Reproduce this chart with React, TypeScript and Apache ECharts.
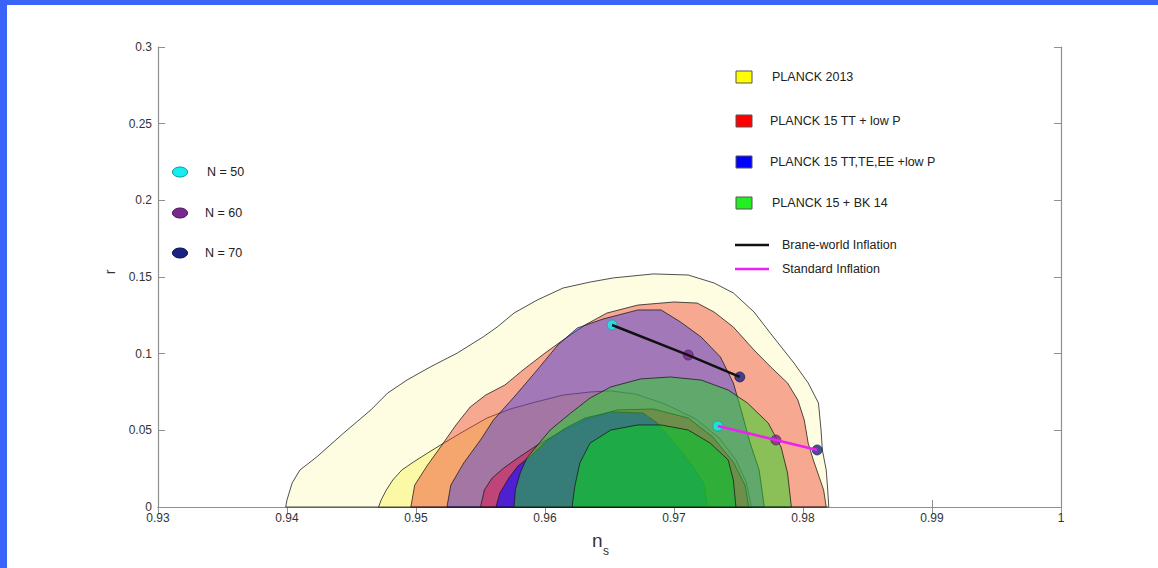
import React, { useEffect, useRef } from "react";
import * as echarts from "echarts";

// ---- data (ns, r) ----
const planck2013_95 = [
  [0.9399, 0], [0.94, 0.0046], [0.9404, 0.0157], [0.941, 0.0241], [0.9423, 0.0326], [0.9444, 0.0483],
  [0.9465, 0.0633], [0.9478, 0.0743], [0.9493, 0.0828], [0.9511, 0.0913], [0.9532, 0.1004], [0.9552, 0.1109],
  [0.9563, 0.1174], [0.9576, 0.1265], [0.9594, 0.135], [0.9614, 0.1428], [0.9635, 0.1467], [0.9653, 0.1494],
  [0.9684, 0.152], [0.9711, 0.1513], [0.9731, 0.1461], [0.9746, 0.1396], [0.9762, 0.1272], [0.9777, 0.1109],
  [0.9793, 0.0939], [0.9804, 0.0809], [0.9812, 0.0678], [0.9814, 0.0502], [0.9815, 0.0372], [0.9818, 0.0241],
  [0.9819, 0.013], [0.982, 0],
];
const planck2013_68 = [
  [0.9471, 0], [0.9473, 0.0046], [0.9477, 0.0111], [0.9482, 0.0176], [0.9489, 0.0241], [0.9498, 0.0293],
  [0.9509, 0.0352], [0.9519, 0.0404], [0.9536, 0.0489], [0.9555, 0.058], [0.9573, 0.0639], [0.9593, 0.0685],
  [0.9614, 0.073], [0.9635, 0.075], [0.9651, 0.0757], [0.967, 0.0737], [0.9693, 0.0672], [0.9717, 0.0574],
  [0.9735, 0.045], [0.9748, 0.0307], [0.9756, 0.0163], [0.976, 0],
];
const tt_95 = [
  [0.9496, 0], [0.9499, 0.0143], [0.9509, 0.0274], [0.9519, 0.0391], [0.9531, 0.0535], [0.9542, 0.0652],
  [0.9554, 0.073], [0.9569, 0.0796], [0.9583, 0.0894], [0.96, 0.1004], [0.9614, 0.1089], [0.9631, 0.1187],
  [0.9648, 0.1265], [0.9672, 0.1317], [0.97, 0.1337], [0.9718, 0.133], [0.9731, 0.1272], [0.9746, 0.1174],
  [0.9762, 0.1024], [0.9775, 0.0913], [0.9788, 0.0809], [0.9796, 0.0698], [0.9801, 0.0567], [0.9804, 0.0417],
  [0.9808, 0.0307], [0.9812, 0.0209], [0.9816, 0.0111], [0.9818, 0],
];
const tt_68 = [
  [0.955, 0], [0.9553, 0.0111], [0.9559, 0.0189], [0.9568, 0.0254], [0.9579, 0.032], [0.9593, 0.0398],
  [0.9612, 0.0489], [0.9635, 0.058], [0.9656, 0.0633], [0.9684, 0.0639], [0.9711, 0.058], [0.973, 0.0457],
  [0.9746, 0.0293], [0.9755, 0.0143], [0.9758, 0],
];
const ttteee_95 = [
  [0.9524, 0], [0.9527, 0.0143], [0.9537, 0.0287], [0.955, 0.0437], [0.956, 0.0567], [0.9576, 0.0717],
  [0.9594, 0.0894], [0.961, 0.1057], [0.9625, 0.1167], [0.9645, 0.1226], [0.9672, 0.1285], [0.969, 0.1285],
  [0.9705, 0.1207], [0.9721, 0.1109], [0.9736, 0.0978], [0.9746, 0.0809], [0.9752, 0.0633], [0.9759, 0.0417],
  [0.9766, 0.0241], [0.977, 0],
];
const ttteee_68 = [
  [0.9562, 0], [0.9565, 0.0091], [0.9572, 0.0189], [0.9579, 0.0267], [0.9589, 0.0333], [0.9602, 0.0437],
  [0.9616, 0.0515], [0.9631, 0.058], [0.9651, 0.062], [0.9676, 0.0613], [0.9687, 0.0548], [0.9703, 0.0391],
  [0.9715, 0.0261], [0.9723, 0.0157], [0.9726, 0],
];
const bk14_95 = [
  [0.9576, 0], [0.9577, 0.0111], [0.9581, 0.0228], [0.9586, 0.032], [0.9593, 0.0391], [0.9604, 0.0502],
  [0.962, 0.0613], [0.9635, 0.0711], [0.9651, 0.0783], [0.9674, 0.0835], [0.9697, 0.0848], [0.9721, 0.0828],
  [0.9742, 0.0763], [0.9757, 0.0678], [0.9773, 0.0548], [0.9783, 0.0391], [0.9788, 0.0222], [0.9791, 0],
];
const bk14_68 = [
  [0.9621, 0], [0.9623, 0.013], [0.9627, 0.0287], [0.9635, 0.0417], [0.9651, 0.0502], [0.9672, 0.0535],
  [0.969, 0.0535], [0.9711, 0.0502], [0.9728, 0.0417], [0.9742, 0.0307], [0.9746, 0.0176], [0.9748, 0],
];

const efolds = ["N = 50", "N = 60", "N = 70"];
const braneNs = [0.9652, 0.9711, 0.9751];
const braneR = [0.1187, 0.0991, 0.0848];
const stdNs = [0.9734, 0.9779, 0.9811];
const stdR = [0.0528, 0.0437, 0.0372];

const xTicks = { min: 0.93, max: 1, step: 0.01 };
const yTicks = { min: 0, max: 0.3, step: 0.05 };

const legendNames = ["PLANCK 2013", "PLANCK 15 TT + low P", "PLANCK 15 TT,TE,EE +low P", "PLANCK 15 + BK 14"];
const lineNames = ["Brane-world Inflation", "Standard Inflation"];

// ---- styles ----
const FONT = "'Liberation Sans', Arial, Helvetica, sans-serif";
const markerColors = ["#14eef0", "#7a2a8c", "#1a2383"];
const markerBorders = ["#0a9a9a", "#4a1a5a", "#0c1250"];
const legendSwatch = ["#ffff00", "#ff0000", "#0000ff", "#22ee22"];

const contours = [
  { d: planck2013_95, fill: "#fefde2" },
  { d: planck2013_68, fill: "#fcf9a6" },
  { d: tt_95, fill: "rgba(238,64,44,0.45)" },
  { d: ttteee_95, fill: "rgba(40,48,244,0.4)" },
  { d: tt_68, fill: "rgba(220,20,75,0.5)" },
  { d: ttteee_68, fill: "rgba(40,20,240,0.75)" },
  { d: bk14_95, fill: "rgba(30,215,30,0.5)" },
  { d: bk14_68, fill: "rgba(20,190,50,0.7)" },
];

export default function App() {
  const ref = useRef<HTMLDivElement>(null);
  useEffect(() => {
    if (!ref.current) return;
    const chart = echarts.init(ref.current, null, { renderer: "svg" });

    const contourSeries = contours.map((c, i) => ({
      type: "custom",
      name: "contour" + i,
      data: c.d,
      encode: { x: 0, y: 1 },
      silent: true,
      renderItem: (params: any, api: any) => {
        if (params.dataIndex !== 0) return null;
        const pts = c.d.map((p) => api.coord(p));
        return {
          type: "polygon",
          shape: { points: pts },
          style: { fill: c.fill, stroke: "rgba(25,25,25,0.85)", lineWidth: 0.9 },
        };
      },
    }));

    const axisLine = { show: true, lineStyle: { color: "#8f8f8f", width: 1.2 } };
    const tick = { show: true, inside: true, length: 7, lineStyle: { color: "#8f8f8f", width: 1 } };

    const g: any[] = [
      { type: "rect", shape: { x: 0, y: 0, width: 7, height: 568 }, style: { fill: "#3a64f7" }, z: 100 },
      { type: "rect", shape: { x: 0, y: 0, width: 1158, height: 5 }, style: { fill: "#3a64f7" }, z: 100 },
      { type: "text", x: 592, y: 531, style: { text: "n", font: `19px ${FONT}`, fill: "#333" } },
      { type: "text", x: 603, y: 545, style: { text: "s", font: `12px ${FONT}`, fill: "#333" } },
      { type: "text", x: 110, y: 272, rotation: Math.PI / 2, style: { text: "r", font: `14px ${FONT}`, fill: "#333", align: "center", verticalAlign: "middle" } },
    ];
    const ellY = [172, 213, 253];
    efolds.forEach((t, i) => {
      g.push({ type: "ellipse", shape: { cx: 180, cy: ellY[i], rx: 7.5, ry: 5 }, style: { fill: markerColors[i], stroke: markerBorders[i], lineWidth: 1 }, z: 50 });
      g.push({ type: "text", x: i === 0 ? 207 : 205, y: ellY[i], style: { text: t, font: `12.5px ${FONT}`, fill: "#222", verticalAlign: "middle" }, z: 50 });
    });
    const sqY = [77, 121, 162, 203];
    const txX = [772, 770, 770, 772];
    legendNames.forEach((t, i) => {
      g.push({ type: "rect", shape: { x: 736, y: sqY[i] - 6, width: 16, height: 12 }, style: { fill: legendSwatch[i], stroke: "#555", lineWidth: 1 }, z: 50 });
      g.push({ type: "text", x: txX[i], y: sqY[i], style: { text: t, font: `12.5px ${FONT}`, fill: "#222", verticalAlign: "middle" }, z: 50 });
    });
    const lnY = [245, 269];
    const lnC = ["#111", "#ee22ee"];
    lineNames.forEach((t, i) => {
      g.push({ type: "line", shape: { x1: 735, y1: lnY[i], x2: 769, y2: lnY[i] }, style: { stroke: lnC[i], lineWidth: 2.5 }, z: 50 });
      g.push({ type: "text", x: 782, y: lnY[i], style: { text: t, font: `12.5px ${FONT}`, fill: "#222", verticalAlign: "middle" }, z: 50 });
    });

    const markers = (ns: number[], r: number[]) =>
      ns.map((x, i) => ({
        value: [x, r[i]],
        itemStyle: { color: markerColors[i], borderColor: markerBorders[i], borderWidth: 0.8 },
      }));

    chart.setOption({
      animation: false,
      backgroundColor: "#fff",
      grid: { left: 158, top: 47, width: 903, height: 460, containLabel: false },
      xAxis: [
        {
          type: "value", min: xTicks.min, max: xTicks.max, interval: xTicks.step, position: "bottom",
          axisLine, axisTick: tick, splitLine: { show: false },
          axisLabel: { color: "#333", fontSize: 12, fontFamily: FONT, margin: 5 },
        },
        {
          type: "value", min: xTicks.min, max: xTicks.max, interval: xTicks.step, position: "top",
          axisLine, axisTick: tick, splitLine: { show: false }, axisLabel: { show: false },
        },
      ],
      yAxis: [
        {
          type: "value", min: yTicks.min, max: yTicks.max, interval: yTicks.step, position: "left",
          axisLine, axisTick: tick, splitLine: { show: false },
          axisLabel: { color: "#333", fontSize: 12, fontFamily: FONT, margin: 6 },
        },
        {
          type: "value", min: yTicks.min, max: yTicks.max, interval: yTicks.step, position: "right",
          axisLine, axisTick: tick, splitLine: { show: false }, axisLabel: { show: false },
        },
      ],
      series: [
        ...contourSeries,
        {
          type: "line", name: lineNames[0], data: braneNs.map((x, i) => [x, braneR[i]]),
          showSymbol: false, lineStyle: { color: "#111", width: 2.5 }, silent: true,
        },
        {
          type: "line", name: lineNames[1], data: stdNs.map((x, i) => [x, stdR[i]]),
          showSymbol: false, lineStyle: { color: "#ee22ee", width: 2.5 }, silent: true,
        },
        { type: "scatter", data: markers(braneNs, braneR), symbolSize: 10, silent: true },
        { type: "scatter", data: markers(stdNs, stdR), symbolSize: 10, silent: true },
      ],
      graphic: g,
    });
    return () => chart.dispose();
  }, []);
  return <div ref={ref} style={{ position: "fixed", left: 0, top: 0, width: 1158, height: 568 }} />;
}
